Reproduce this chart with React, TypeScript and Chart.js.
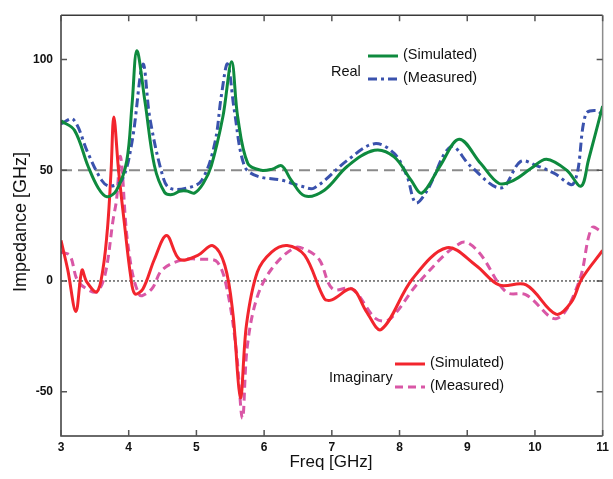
import React, { useEffect, useRef } from "react";
import { Chart, registerables } from "chart.js";

Chart.register(...registerables);

const xTicks = [3, 4, 5, 6, 7, 8, 9, 10, 11];
const yTicks = [-50, 0, 50, 100];

const realSimFreq = [3.0, 3.2, 3.4, 3.55, 3.68, 3.82, 3.97, 4.05, 4.12, 4.24, 4.38, 4.53, 4.64, 4.75, 4.86, 4.97, 5.1, 5.22, 5.39, 5.52, 5.61, 5.76, 5.96, 6.12, 6.26, 6.4, 6.6, 6.89, 7.23, 7.63, 7.92, 8.17, 8.33, 8.6, 8.88, 9.2, 9.47, 9.69, 9.95, 10.17, 10.47, 10.68, 10.79, 11.0];
const realSimVals = [72.3, 68, 51.8, 42, 38, 41, 54, 80, 104, 81, 52, 40, 39, 40.5, 40.6, 39.7, 44, 52, 74, 99, 74, 53, 50, 50.5, 52, 45.5, 38.4, 41, 51.8, 59, 56, 45.5, 39.7, 52, 64, 53, 44, 45.5, 51, 55, 50, 42.8, 54.5, 79];

const realMeasFreq = [3.0, 3.18, 3.4, 3.6, 3.72, 3.9, 4.05, 4.21, 4.31, 4.49, 4.6, 4.87, 5.08, 5.27, 5.37, 5.46, 5.56, 5.71, 5.9, 6.26, 6.55, 6.74, 7.23, 7.63, 7.92, 8.11, 8.24, 8.41, 8.76, 9.05, 9.5, 9.79, 10.03, 10.28, 10.57, 10.75, 10.9, 11.0];
const realMeasVals = [71, 73, 57.6, 45.5, 42.8, 45.5, 63, 97.8, 74, 48.7, 42, 42, 45.5, 62, 84, 98, 77, 51.8, 47.3, 45.5, 42.8, 42, 54.5, 62, 57.6, 47.3, 35.3, 41, 60.7, 51.8, 42, 54, 52, 48.7, 44, 75.4, 77, 75];

const imagSimFreq = [3.0, 3.1, 3.22, 3.31, 3.38, 3.53, 3.62, 3.69, 3.74, 3.78, 3.85, 3.94, 4.03, 4.09, 4.21, 4.38, 4.56, 4.75, 5.02, 5.24, 5.42, 5.54, 5.65, 5.74, 5.9, 6.11, 6.34, 6.6, 6.89, 7.0, 7.3, 7.51, 7.73, 8.19, 8.7, 9.13, 9.47, 9.87, 10.31, 10.54, 10.69, 11.0];
const imagSimVals = [18.3, 5, -13.8, 4.9, -0.4, -4.9, 5.4, 25, 50, 74, 50, 25, 2, -5.8, -3.6, 9.8, 20.5, 9.8, 11.6, 16, 7, -15, -52.7, -19.6, 4, 13, 16, 11.6, -8, -8.5, -3.6, -13.8, -21.9, 0.9, 15, 7, -1.8, -1.8, -15, -9.4, 0.9, 13.8];

const imagMeasFreq = [3.0, 3.13, 3.24, 3.38, 3.53, 3.65, 3.77, 3.82, 3.88, 3.99, 4.16, 4.34, 4.49, 4.78, 5.08, 5.31, 5.46, 5.59, 5.68, 5.75, 5.89, 6.11, 6.45, 6.64, 6.82, 7.01, 7.3, 7.65, 7.85, 8.29, 8.92, 9.17, 9.57, 9.87, 10.32, 10.65, 10.84, 11.0];
const imagMeasVals = [13, 11.6, 0.4, -3.6, -4.9, 2.7, 27.7, 36.6, 56, 16, -6.3, -3.6, 4.9, 9.4, 9.8, 8.5, -4.9, -31.7, -62, -30, -8, 5.4, 15, 13.8, 9.4, -3.6, -3.6, -17, -17.4, -0.4, 17.4, 13, -4.9, -6.3, -17, -0.4, 24, 22];

const seriesNames = ["(Simulated)", "(Measured)"];
const groupNames = ["Real", "Imaginary"];

const GREEN = "#0e8a3e";
const BLUE = "#3a52ad";
const RED = "#f2252d";
const MAGENTA = "#d957a6";

const FONT = "'Liberation Sans', Arial, sans-serif";

const zip = (xs: number[], ys: number[]) => xs.map((x, i) => ({ x, y: ys[i] }));

const decorPlugin = {
  id: "decor",
  beforeDatasetsDraw(chart: any) {
    const { ctx, chartArea, scales } = chart;
    const y = scales.y;
    ctx.save();
    ctx.strokeStyle = "#8a8a8a";
    ctx.lineWidth = 2;
    ctx.setLineDash([11, 6]);
    const y50 = y.getPixelForValue(50);
    ctx.beginPath();
    ctx.moveTo(chartArea.left, y50);
    ctx.lineTo(chartArea.right, y50);
    ctx.stroke();
    ctx.strokeStyle = "#111";
    ctx.lineWidth = 1;
    ctx.setLineDash([2, 2]);
    const y0 = y.getPixelForValue(0);
    ctx.beginPath();
    ctx.moveTo(chartArea.left, y0);
    ctx.lineTo(chartArea.right, y0);
    ctx.stroke();
    ctx.restore();
  },
  afterDraw(chart: any) {
    const { ctx, chartArea, scales } = chart;
    const { left, right, top, bottom } = chartArea;
    const xs = scales.x;
    const ys = scales.y;
    ctx.save();
    ctx.setLineDash([]);
    ctx.strokeStyle = "#3a3a3a";
    ctx.lineWidth = 1.5;
    ctx.beginPath();
    ctx.moveTo(left, top);
    ctx.lineTo(left, bottom);
    ctx.lineTo(right, bottom);
    ctx.moveTo(left, top);
    ctx.lineTo(right, top);
    ctx.stroke();
    ctx.strokeStyle = "#8c8c8c";
    ctx.beginPath();
    ctx.moveTo(right, top);
    ctx.lineTo(right, bottom);
    ctx.stroke();
    ctx.strokeStyle = "#555";
    ctx.lineWidth = 1.5;
    const tl = 6;
    xTicks.forEach((v) => {
      const px = xs.getPixelForValue(v);
      ctx.beginPath();
      ctx.moveTo(px, bottom);
      ctx.lineTo(px, bottom - tl);
      ctx.moveTo(px, top);
      ctx.lineTo(px, top + tl);
      ctx.stroke();
    });
    yTicks.forEach((v) => {
      const py = ys.getPixelForValue(v);
      ctx.beginPath();
      ctx.moveTo(left, py);
      ctx.lineTo(left + tl, py);
      ctx.moveTo(right, py);
      ctx.lineTo(right - tl, py);
      ctx.stroke();
    });
    ctx.fillStyle = "#111";
    ctx.textAlign = "center";
    ctx.textBaseline = "middle";
    ctx.font = `17px ${FONT}`;
    ctx.fillText("Freq [GHz]", 331, 462);
    ctx.save();
    ctx.translate(21, 222);
    ctx.rotate(-Math.PI / 2);
    ctx.font = `18px ${FONT}`;
    ctx.fillText("Impedance [GHz]", 0, 0);
    ctx.restore();

    const drawLegend = (
      group: string,
      gx: number,
      gy: number,
      lx0: number,
      lx1: number,
      y1: number,
      y2: number,
      c1: string,
      c2: string,
      d2: number[]
    ) => {
      ctx.font = `14.5px ${FONT}`;
      ctx.fillStyle = "#111";
      ctx.textAlign = "left";
      ctx.textBaseline = "middle";
      ctx.fillText(group, gx, gy);
      ctx.lineWidth = 3;
      ctx.strokeStyle = c1;
      ctx.setLineDash([]);
      ctx.beginPath();
      ctx.moveTo(lx0, y1);
      ctx.lineTo(lx1, y1);
      ctx.stroke();
      ctx.strokeStyle = c2;
      ctx.setLineDash(d2);
      ctx.beginPath();
      ctx.moveTo(lx0, y2);
      ctx.lineTo(lx1, y2);
      ctx.stroke();
      ctx.setLineDash([]);
      ctx.fillText(seriesNames[0], lx1 + 5, y1 - 1);
      ctx.fillText(seriesNames[1], lx1 + 5, y2 - 1);
    };
    drawLegend(groupNames[0], 331, 72, 368, 398, 56, 79, GREEN, BLUE, [9, 4, 3, 4]);
    drawLegend(groupNames[1], 329, 378, 395, 425, 364, 387, RED, MAGENTA, [8, 5]);
    ctx.restore();
  },
};

export default function App() {
  const ref = useRef<HTMLCanvasElement | null>(null);
  useEffect(() => {
    document.body.style.margin = "0";
    const canvas = ref.current;
    if (!canvas) return;
    const common = {
      fill: false,
      pointRadius: 0,
      borderWidth: 3,
      tension: 0.35,
    };
    const chart = new Chart(canvas, {
      type: "line",
      data: {
        datasets: [
          { ...common, label: "Real (Simulated)", data: zip(realSimFreq, realSimVals), borderColor: GREEN },
          { ...common, label: "Real (Measured)", data: zip(realMeasFreq, realMeasVals), borderColor: BLUE, borderDash: [9, 4, 3, 4] },
          { ...common, label: "Imaginary (Simulated)", data: zip(imagSimFreq, imagSimVals), borderColor: RED },
          { ...common, label: "Imaginary (Measured)", data: zip(imagMeasFreq, imagMeasVals), borderColor: MAGENTA, borderDash: [8, 5] },
        ],
      },
      options: {
        animation: false,
        responsive: false,
        maintainAspectRatio: false,
        layout: { padding: { left: 0, right: 9, top: 11, bottom: 0 } },
        plugins: { legend: { display: false }, tooltip: { enabled: false }, title: { display: false } },
        scales: {
          x: {
            type: "linear",
            min: 3,
            max: 11,
            grid: { display: false, drawTicks: false },
            border: { display: false },
            afterBuildTicks: (s: any) => {
              s.ticks = xTicks.map((v) => ({ value: v }));
            },
            afterFit: (s: any) => {
              s.height = 43;
            },
            ticks: {
              padding: 4,
              color: "#111",
              font: { family: FONT, size: 12, weight: "bold" },
              maxRotation: 0,
            },
          },
          y: {
            type: "linear",
            min: -70,
            max: 120,
            grid: { display: false, drawTicks: false },
            border: { display: false },
            afterBuildTicks: (s: any) => {
              s.ticks = yTicks.map((v) => ({ value: v }));
            },
            afterFit: (s: any) => {
              s.width = 61;
            },
            ticks: {
              padding: 8,
              color: "#111",
              font: { family: FONT, size: 12, weight: "bold" },
            },
          },
        },
      },
      plugins: [decorPlugin],
    });
    return () => chart.destroy();
  }, []);
  return <canvas ref={ref} width={613} height={479} style={{ display: "block" }} />;
}
